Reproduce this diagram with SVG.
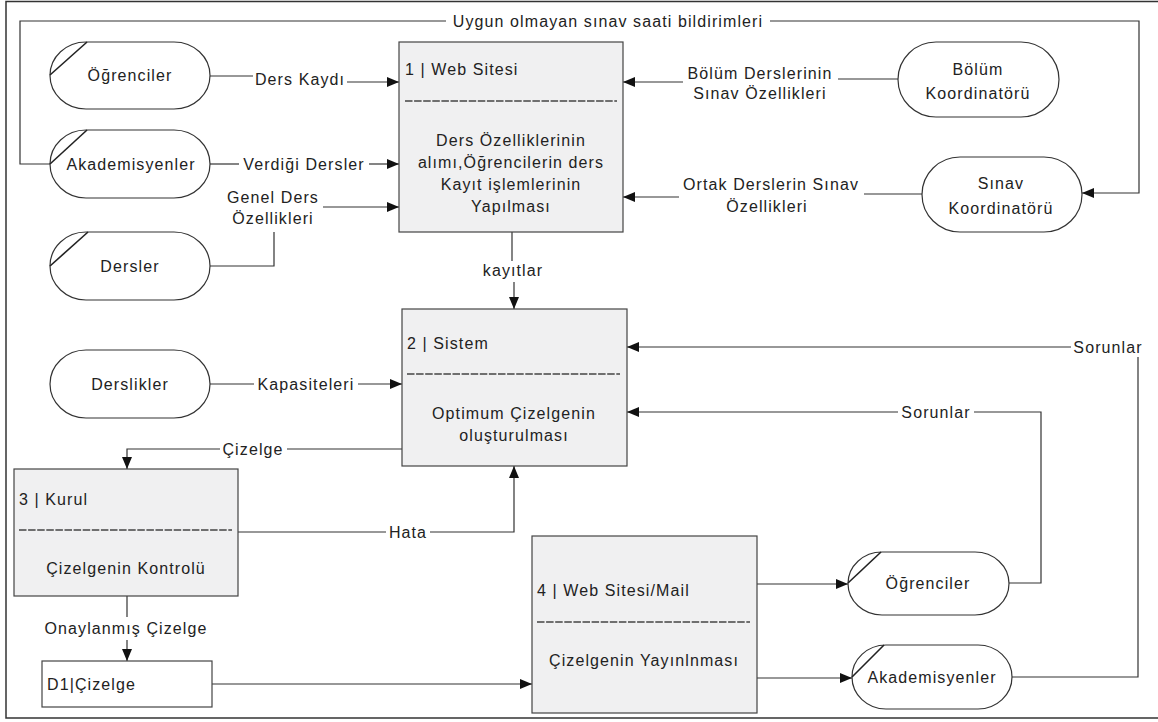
<svg xmlns="http://www.w3.org/2000/svg" width="1158" height="722" viewBox="0 0 1158 722">
<defs>
<style>
text{font-family:"Liberation Sans",Arial,sans-serif;font-size:16px;fill:#222;letter-spacing:1.1px}
.c{text-anchor:middle}
.ent{fill:#fff;stroke:#333;stroke-width:1.2}
.proc{fill:#f0f0f1;stroke:#444;stroke-width:1.2}
.store{fill:#fff;stroke:#444;stroke-width:1.2}
.sl{stroke:#222;stroke-width:1.6;fill:none}
.dash{stroke:#444;stroke-width:1.3;stroke-dasharray:7.5 1.6}
.ln{fill:none;stroke:#333;stroke-width:1.2}
.frame{fill:none;stroke:#333;stroke-width:1.5}
</style>
<marker id="arr" markerWidth="12" markerHeight="10" refX="12" refY="5" orient="auto" markerUnits="userSpaceOnUse">
<path d="M0,0 L12,5 L0,10 z" fill="#111"/>
</marker>
</defs>
<rect width="1158" height="722" fill="#fff"/>
<path class="frame" d="M1160,1.5 H6 V718 H1160"/>

<g id="connectors">
<path class="ln" d="M50,164 H20 V21 H446"/>
<path class="ln" d="M770,21 H1139 V193 H1082" marker-end="url(#arr)"/>
<text class="c" x="608" y="26.5">Uygun olmayan sınav saati bildirimleri</text>

<path class="ln" d="M210,76 H253"/>
<path class="ln" d="M347,82 H399" marker-end="url(#arr)"/>
<text class="c" x="300" y="85">Ders Kaydı</text>

<path class="ln" d="M210,164 H239"/>
<path class="ln" d="M369,164 H399" marker-end="url(#arr)"/>
<text class="c" x="304" y="169.5">Verdiği Dersler</text>

<path class="ln" d="M210,266 H274 V232"/>
<path class="ln" d="M323,207 H399" marker-end="url(#arr)"/>
<text class="c" x="273" y="202.5">Genel Ders</text>
<text class="c" x="273" y="223.5">Özellikleri</text>

<path class="ln" d="M898,79 H838"/>
<path class="ln" d="M683,82 H623" marker-end="url(#arr)"/>
<text class="c" x="760" y="78.5">Bölüm Derslerinin</text>
<text class="c" x="760" y="98.5">Sınav Özellikleri</text>

<path class="ln" d="M922,194 H864"/>
<path class="ln" d="M679,197 H623" marker-end="url(#arr)"/>
<text class="c" x="771" y="189.5">Ortak Derslerin Sınav</text>
<text class="c" x="767" y="211.5">Özellikleri</text>

<path class="ln" d="M512,232 V261"/>
<path class="ln" d="M514,282 V309" marker-end="url(#arr)"/>
<text class="c" x="513" y="275.5">kayıtlar</text>

<path class="ln" d="M210,384 H254"/>
<path class="ln" d="M358,384 H402" marker-end="url(#arr)"/>
<text class="c" x="306" y="389.5">Kapasiteleri</text>

<path class="ln" d="M402,449 H287"/>
<path class="ln" d="M220,449 H127 V469" marker-end="url(#arr)"/>
<text class="c" x="253" y="454.5">Çizelge</text>

<path class="ln" d="M238,532 H386"/>
<path class="ln" d="M430,532 H514 V466" marker-end="url(#arr)"/>
<text class="c" x="408" y="537.5">Hata</text>

<path class="ln" d="M127,596 V617"/>
<path class="ln" d="M127,640 V661" marker-end="url(#arr)"/>
<text class="c" x="126" y="634">Onaylanmış Çizelge</text>

<path class="ln" d="M1012,677 H1138 V357"/>
<path class="ln" d="M1071,347 H627" marker-end="url(#arr)"/>
<text class="c" x="1108" y="352.5">Sorunlar</text>

<path class="ln" d="M1009,583 H1041 V412 H974"/>
<path class="ln" d="M898,412 H627" marker-end="url(#arr)"/>
<text class="c" x="936" y="417.5">Sorunlar</text>

<path class="ln" d="M757,584 H848" marker-end="url(#arr)"/>
<path class="ln" d="M757,678 H852" marker-end="url(#arr)"/>
<path class="ln" d="M212,684 H532" marker-end="url(#arr)"/>
</g>

<g id="ogrenciler1">
<rect class="ent" x="50" y="42" width="160" height="67" rx="36" ry="33.5"/>
<path class="sl" d="M50,75 L87,42"/>
<text class="c" x="130" y="81">Öğrenciler</text>
</g>
<g id="akademisyenler1">
<rect class="ent" x="50" y="130" width="160" height="68" rx="36" ry="34"/>
<path class="sl" d="M50,164 L87,130"/>
<text class="c" x="131" y="169.5">Akademisyenler</text>
</g>
<g id="dersler">
<rect class="ent" x="50" y="232" width="160" height="68" rx="36" ry="34"/>
<path class="sl" d="M50,266 L88,232"/>
<text class="c" x="130" y="271.5">Dersler</text>
</g>
<g id="derslikler">
<rect class="ent" x="50" y="350" width="160" height="68" rx="36" ry="34"/>
<text class="c" x="130" y="389.5">Derslikler</text>
</g>
<g id="bolum-koordinatoru">
<rect class="ent" x="898" y="42" width="161" height="75" rx="38" ry="37.5"/>
<text class="c" x="978" y="74.5">Bölüm</text>
<text class="c" x="978" y="98.5">Koordinatörü</text>
</g>
<g id="sinav-koordinatoru">
<rect class="ent" x="922" y="157" width="160" height="75" rx="38" ry="37.5"/>
<text class="c" x="1001" y="188.5">Sınav</text>
<text class="c" x="1001" y="213.5">Koordinatörü</text>
</g>
<g id="p1">
<rect class="proc" x="399" y="42" width="224" height="190"/>
<text x="405" y="74.5">1 | Web Sitesi</text>
<line class="dash" x1="405" y1="101" x2="617" y2="101"/>
<text class="c" x="511" y="145.5">Ders Özelliklerinin</text>
<text class="c" x="511" y="167.5">alımı,Öğrencilerin ders</text>
<text class="c" x="511" y="189.5">Kayıt işlemlerinin</text>
<text class="c" x="511" y="211.5">Yapılması</text>
</g>
<g id="p2">
<rect class="proc" x="402" y="309" width="225" height="157"/>
<text x="407" y="348.5">2 | Sistem</text>
<line class="dash" x1="407" y1="374" x2="620" y2="374"/>
<text class="c" x="514" y="418.5">Optimum Çizelgenin</text>
<text class="c" x="514" y="440.5">oluşturulması</text>
</g>
<g id="p3">
<rect class="proc" x="14" y="469" width="224" height="127"/>
<text x="19" y="504.5">3 | Kurul</text>
<line class="dash" x1="19" y1="530" x2="232" y2="530"/>
<text class="c" x="126" y="573.5">Çizelgenin Kontrolü</text>
</g>
<g id="d1">
<rect class="store" x="42" y="661" width="170" height="46"/>
<text x="47" y="689.5">D1|Çizelge</text>
</g>
<g id="p4">
<rect class="proc" x="532" y="536" width="225" height="177"/>
<text x="537" y="595.5">4 | Web Sitesi/Mail</text>
<line class="dash" x1="537" y1="622" x2="750" y2="622"/>
<text class="c" x="644" y="665.5">Çizelgenin Yayınlnması</text>
</g>
<g id="ogrenciler2">
<rect class="ent" x="848" y="552" width="161" height="63" rx="34" ry="31.5"/>
<path class="sl" d="M848,583 L881,552"/>
<text class="c" x="928" y="588.5">Öğrenciler</text>
</g>
<g id="akademisyenler2">
<rect class="ent" x="852" y="645" width="160" height="64" rx="34" ry="32"/>
<path class="sl" d="M852,677 L884,645"/>
<text class="c" x="932" y="682.5">Akademisyenler</text>
</g>
</svg>
